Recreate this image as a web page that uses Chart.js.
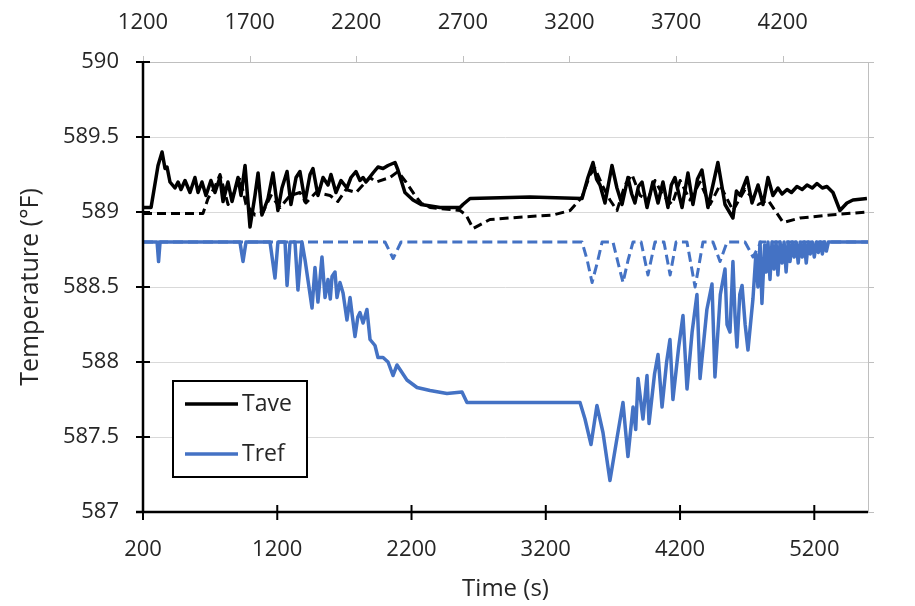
<!DOCTYPE html>
<html>
<head>
<meta charset="utf-8">
<script src="https://cdn.jsdelivr.net/npm/chart.js@4.4.0/dist/chart.umd.min.js"></script>
<style>html,body{margin:0;background:#fff}</style>
</head>
<body>
<canvas id="temp-chart" width="915" height="606"></canvas>
<script>
// tick labels
const bottomTicks = [200, 1200, 2200, 3200, 4200, 5200];
const topTicks = [1200, 1700, 2200, 2700, 3200, 3700, 4200];
const yTicks = [587, 587.5, 588, 588.5, 589, 589.5, 590];

// Tave, solid (bottom time axis)
const taveSolid = [
  [200,589.03],[260,589.03],[312,589.31],[342,589.40],[364,589.29],[379,589.30],[401,589.20],[438,589.16],
  [461,589.20],[483,589.15],[513,589.21],[550,589.13],[587,589.23],[610,589.13],[639,589.20],[669,589.11],
  [706,589.21],[736,589.13],[773,589.23],[796,589.07],[833,589.20],[863,589.07],[908,589.23],[930,589.11],
  [960,589.31],[997,588.90],[1034,589.11],[1057,589.26],[1086,588.98],[1131,589.09],[1168,589.26],[1205,589.01],
  [1235,589.16],[1273,589.27],[1302,589.05],[1340,589.23],[1369,589.27],[1407,589.07],[1444,589.25],[1466,589.29],
  [1503,589.11],[1541,589.23],[1578,589.18],[1600,589.25],[1637,589.13],[1675,589.21],[1719,589.16],[1749,589.23],
  [1786,589.27],[1816,589.21],[1839,589.23],[1861,589.20],[1913,589.26],[1950,589.30],[1988,589.29],[2025,589.31],
  [2077,589.33],[2099,589.28],[2151,589.13],[2211,589.08],[2271,589.05],[2412,589.03],[2561,589.03],[2583,589.05],
  [2636,589.09],[3082,589.10],[3470,589.09],[3514,589.23],[3552,589.33],[3578,589.22],[3604,589.18],[3641,589.06],
  [3693,589.31],[3730,589.16],[3768,589.05],[3812,589.23],[3840,589.12],[3864,589.06],[3890,589.17],[3917,589.20],
  [3954,589.03],[3998,589.20],[4036,589.06],[4073,589.20],[4110,589.03],[4135,589.18],[4162,589.23],[4215,589.03],
  [4259,589.26],[4296,589.05],[4330,589.22],[4363,589.28],[4408,589.03],[4450,589.20],[4482,589.33],[4535,589.05],
  [4594,588.96],[4620,589.14],[4647,589.11],[4699,589.23],[4736,589.06],[4781,589.18],[4818,589.05],[4855,589.23],
  [4892,589.11],[4929,589.16],[4960,589.12],[4997,589.15],[5030,589.13],[5071,589.17],[5110,589.15],[5146,589.18],
  [5185,589.16],[5220,589.19],[5260,589.16],[5294,589.17],[5339,589.13],[5391,589.01],[5443,589.06],[5488,589.08],
  [5592,589.09]
];

// Tref, solid (bottom time axis)
const trefSolid = [
  [200,588.8],[305,588.8],[316,588.67],[327,588.8],[922,588.8],[945,588.67],[967,588.8],
  [1146,588.8],[1183,588.56],[1205,588.8],[1258,588.8],[1273,588.51],[1295,588.8],[1332,588.8],[1354,588.48],
  [1384,588.8],[1407,588.68],[1459,588.36],[1481,588.63],[1503,588.4],[1533,588.7],[1556,588.43],[1578,588.55],
  [1595,588.42],[1608,588.57],[1630,588.6],[1645,588.43],[1667,588.53],[1690,588.46],[1719,588.28],[1742,588.43],
  [1760,588.3],[1779,588.17],[1800,588.3],[1816,588.33],[1839,588.26],[1868,588.35],[1891,588.15],[1928,588.11],
  [1950,588.03],[1988,588.03],[2025,588.0],[2062,587.91],[2092,587.98],[2166,587.88],[2241,587.83],[2338,587.81],
  [2464,587.79],[2576,587.8],[2613,587.73],[3082,587.73],[3455,587.73],[3492,587.62],[3537,587.45],[3581,587.71],
  [3626,587.53],[3678,587.21],[3730,587.49],[3775,587.73],[3812,587.37],[3850,587.7],[3870,587.55],[3887,587.89],
  [3924,587.62],[3954,587.91],[3969,587.59],[4010,587.92],[4036,588.05],[4066,587.7],[4100,588.0],[4125,588.15],
  [4147,587.75],[4190,588.1],[4222,588.31],[4252,587.82],[4290,588.2],[4326,588.45],[4349,587.89],[4400,588.35],
  [4438,588.52],[4460,587.9],[4500,588.45],[4535,588.62],[4550,588.25],[4572,588.2],[4594,588.67],[4610,588.3],
  [4624,588.1],[4645,588.45],[4662,588.51],[4685,588.25],[4706,588.08],[4743,588.42],[4765,588.72],[4780,588.5],
  [4796,588.8],[4810,588.39],[4830,588.78],[4842,588.6],[4855,588.8],[4870,588.55],[4885,588.8],[4900,588.62],
  [4915,588.8],[4929,588.58],[4945,588.8],[4960,588.66],[4975,588.8],[4990,588.6],[5005,588.8],[5019,588.67],
  [5035,588.8],[5050,588.7],[5065,588.8],[5080,588.66],[5095,588.8],[5110,588.7],[5125,588.8],[5140,588.66],
  [5155,588.8],[5170,588.72],[5185,588.8],[5200,588.7],[5215,588.8],[5230,588.73],[5245,588.8],[5260,588.72],
  [5275,588.8],[5290,588.74],[5305,588.8],[5600,588.8]
];

// Tave, dashed (top time axis)
const taveDashed = [
  [1200,588.99],[1481,588.99],[1505,589.09],[1538,589.17],[1561,589.25],[1599,589.05],[1622,589.11],[1655,589.23],
  [1683,589.05],[1725,588.98],[1763,589.00],[1800,589.11],[1843,589.03],[1890,589.11],[1936,589.13],[1964,589.06],
  [2011,589.13],[2077,589.11],[2114,589.07],[2152,589.15],[2199,589.13],[2264,589.23],[2293,589.20],[2358,589.23],
  [2396,589.27],[2433,589.20],[2476,589.11],[2504,589.06],[2546,589.03],[2687,589.01],[2715,588.98],[2748,588.89],
  [2827,588.95],[3015,588.97],[3123,588.98],[3203,589.01],[3259,589.10],[3297,589.25],[3320,589.29],[3353,589.18],
  [3390,589.08],[3423,589.01],[3460,589.18],[3493,589.25],[3531,589.11],[3568,589.08],[3601,589.21],[3639,589.11],
  [3681,589.05],[3719,589.21],[3765,589.08],[3812,589.20],[3859,589.05],[3906,589.18],[3967,589.01],[4023,589.15],
  [4084,589.05],[4131,589.08],[4202,588.93],[4281,588.96],[4422,588.98],[4596,589.00]
];

// Tref, dashed (top time axis)
const trefDashed = [
  [1200,588.8],[2335,588.8],[2373,588.69],[2410,588.8],[3259,588.8],[3283,588.68],[3306,588.53],[3330,588.66],
  [3353,588.8],[3404,588.8],[3428,588.66],[3451,588.53],[3475,588.68],[3498,588.8],[3536,588.8],[3568,588.58],
  [3601,588.8],[3643,588.8],[3672,588.58],[3700,588.8],[3751,588.8],[3770,588.65],[3789,588.5],[3808,588.65],
  [3826,588.8],[3873,588.8],[3906,588.67],[3939,588.8],[4023,588.8],[4061,588.7],[4098,588.8],[4600,588.8]
];

const BLACK = '#000000';
const BLUE = '#4472C4';
const TEXT = '#262626';
const FONT = "'Open Sans', sans-serif";

const toPoints = (rows) => rows.map(([x, y]) => ({ x, y }));

function line(ctx, x1, y1, x2, y2) {
  ctx.beginPath();
  ctx.moveTo(x1, y1);
  ctx.lineTo(x2, y2);
  ctx.stroke();
}

// axis lines, tick marks and the boxed legend
const framePlugin = {
  id: 'frame',
  afterDatasetsDraw(chart) {
    const { ctx, chartArea: a, scales } = chart;
    ctx.save();

    ctx.strokeStyle = '#bfbfbf';
    ctx.lineWidth = 1;
    line(ctx, a.left, a.top + 0.5, a.right, a.top + 0.5);
    line(ctx, a.right + 0.5, a.top, a.right + 0.5, a.bottom);
    topTicks.forEach((v) => {
      const x = Math.round(scales.x2.getPixelForValue(v)) + 0.5;
      line(ctx, x, a.top, x, a.top - 6);
    });
    yTicks.forEach((v) => {
      const y = Math.round(scales.y.getPixelForValue(v)) + 0.5;
      line(ctx, a.right, y, a.right + 6, y);
    });

    ctx.strokeStyle = BLACK;
    ctx.lineWidth = 2.5;
    line(ctx, a.left, a.top - 1, a.left, a.bottom + 1);
    line(ctx, a.left - 7, a.bottom, a.right, a.bottom);
    ctx.lineWidth = 2;
    yTicks.forEach((v) => {
      const y = scales.y.getPixelForValue(v);
      line(ctx, a.left - 7, y, a.left + 7, y);
    });
    bottomTicks.forEach((v) => {
      const x = scales.x.getPixelForValue(v);
      line(ctx, x, a.bottom - 7, x, a.bottom + 8);
    });

    // legend
    const lx = 173, ly = 381, lw = 134, lh = 96;
    ctx.fillStyle = '#fff';
    ctx.fillRect(lx, ly, lw, lh);
    ctx.lineWidth = 2;
    ctx.strokeRect(lx, ly, lw, lh);
    ctx.lineWidth = 3.5;
    ctx.strokeStyle = BLACK;
    line(ctx, 185, 404, 238, 404);
    ctx.strokeStyle = BLUE;
    line(ctx, 185, 454, 238, 454);
    ctx.fillStyle = TEXT;
    ctx.font = '23px ' + FONT;
    ctx.textBaseline = 'middle';
    ctx.fillText('Tave', 242, 404);
    ctx.fillText('Tref', 242, 454);

    ctx.restore();
  }
};

const ctx = document.getElementById('temp-chart').getContext('2d');

new Chart(ctx, {
  type: 'line',
  data: {
    datasets: [
      {
        label: 'Tave',
        data: toPoints(taveSolid),
        xAxisID: 'x',
        borderColor: BLACK,
        borderWidth: 3.5,
      },
      {
        label: 'Tref',
        data: toPoints(trefSolid),
        xAxisID: 'x',
        borderColor: BLUE,
        borderWidth: 3.5,
      },
      {
        label: 'Tave (top)',
        data: toPoints(taveDashed),
        xAxisID: 'x2',
        borderColor: BLACK,
        borderWidth: 3,
        borderDash: [9, 5],
      },
      {
        label: 'Tref (top)',
        data: toPoints(trefDashed),
        xAxisID: 'x2',
        borderColor: BLUE,
        borderWidth: 3,
        borderDash: [10, 5],
      },
    ],
  },
  options: {
    responsive: false,
    animation: false,
    layout: { padding: { left: 0, right: 47, top: 0, bottom: 0 } },
    elements: {
      point: { radius: 0 },
      line: { tension: 0, fill: false, borderJoinStyle: 'round' },
    },
    plugins: {
      legend: { display: false },
      tooltip: { enabled: false },
    },
    scales: {
      x: {
        type: 'linear',
        position: 'bottom',
        min: 200,
        max: 5600,
        afterBuildTicks: (scale) => {
          scale.ticks = bottomTicks.map((value) => ({ value }));
        },
        afterFit: (scale) => { scale.height = 94; },
        grid: { display: false, drawTicks: false },
        border: { display: false },
        ticks: {
          padding: 25, color: TEXT, font: { family: FONT, size: 22 },
          maxRotation: 0, autoSkip: false, callback: (v) => String(v),
        },
        title: {
          display: true,
          text: 'Time (s)',
          color: TEXT,
          font: { family: FONT, size: 24 },
          padding: { top: 0, bottom: 2 },
        },
      },
      x2: {
        type: 'linear',
        position: 'top',
        min: 1200,
        max: 4600,
        afterBuildTicks: (scale) => {
          scale.ticks = topTicks.map((value) => ({ value }));
        },
        afterFit: (scale) => { scale.height = 62; },
        grid: { display: false, drawTicks: false },
        border: { display: false },
        ticks: {
          padding: 26, color: TEXT, font: { family: FONT, size: 22 },
          maxRotation: 0, autoSkip: false, callback: (v) => String(v),
        },
      },
      y: {
        type: 'linear',
        min: 587,
        max: 590,
        afterBuildTicks: (scale) => {
          scale.ticks = yTicks.map((value) => ({ value }));
        },
        afterFit: (scale) => { scale.width = 143; },
        grid: { color: '#d9d9d9', lineWidth: 1, drawTicks: false },
        border: { display: false },
        ticks: {
          padding: 24,
          color: TEXT,
          font: { family: FONT, size: 22 },
          callback: (v) => String(v),
        },
        title: {
          display: true,
          text: 'Temperature (°F)',
          color: TEXT,
          font: { family: FONT, size: 25 },
          padding: { top: 16, bottom: 0 },
        },
      },
    },
  },
  plugins: [framePlugin],
});
</script>
</body>
</html>
